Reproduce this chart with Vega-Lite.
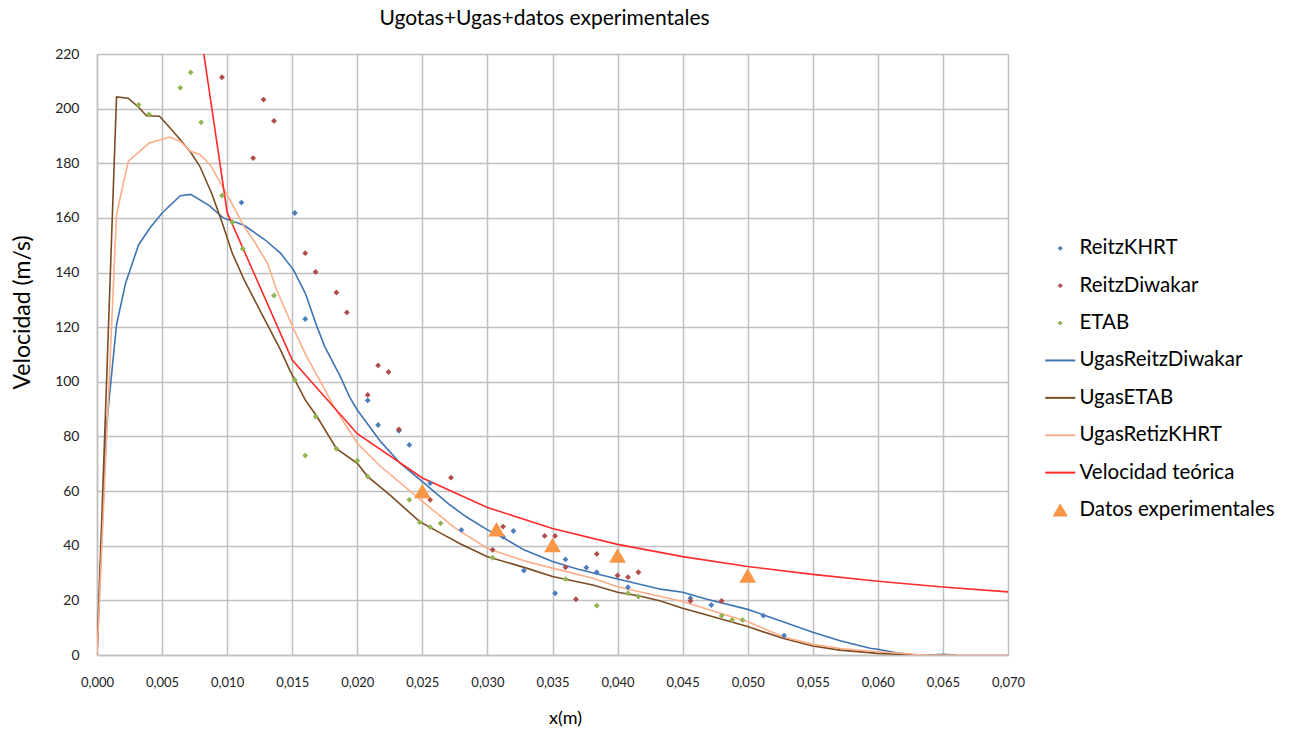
{
  "$schema": "https://vega.github.io/schema/vega-lite/v6.json",
  "width": 911,
  "height": 601,
  "autosize": {"type": "none"},
  "padding": {"left": 97, "top": 54, "right": 284, "bottom": 74},
  "background": "white",
  "title": {
    "text": "Ugotas+Ugas+datos experimentales",
    "font": "Lato",
    "fontSize": 21,
    "fontWeight": "normal",
    "color": "#000000",
    "anchor": "middle",
    "offset": 18,
    "dx": -8
  },
  "config": {
    "view": {"stroke": null},
    "axis": {
      "gridColor": "#c0c0c0",
      "gridWidth": 1.5,
      "domainColor": "#c0c0c0",
      "domainWidth": 1.5,
      "ticks": false,
      "labelFont": "Lato",
      "labelFontSize": 13,
      "labelColor": "#222222",
      "titleFont": "Lato",
      "titleColor": "#000000",
      "titleFontWeight": "normal"
    }
  },
  "data": {
    "values": [
      {"series": "ReitzKHRT", "x": 0.0111, "y": 165.6},
      {"series": "ReitzKHRT", "x": 0.0152, "y": 161.8},
      {"series": "ReitzKHRT", "x": 0.0160, "y": 123.0},
      {"series": "ReitzKHRT", "x": 0.0208, "y": 93.2},
      {"series": "ReitzKHRT", "x": 0.0216, "y": 84.2},
      {"series": "ReitzKHRT", "x": 0.0232, "y": 82.1},
      {"series": "ReitzKHRT", "x": 0.0240, "y": 76.9},
      {"series": "ReitzKHRT", "x": 0.0256, "y": 62.9},
      {"series": "ReitzKHRT", "x": 0.0280, "y": 45.8},
      {"series": "ReitzKHRT", "x": 0.0312, "y": 43.3},
      {"series": "ReitzKHRT", "x": 0.0320, "y": 45.4},
      {"series": "ReitzKHRT", "x": 0.0328, "y": 30.9},
      {"series": "ReitzKHRT", "x": 0.0352, "y": 22.6},
      {"series": "ReitzKHRT", "x": 0.0360, "y": 35.0},
      {"series": "ReitzKHRT", "x": 0.0376, "y": 32.0},
      {"series": "ReitzKHRT", "x": 0.0384, "y": 30.3},
      {"series": "ReitzKHRT", "x": 0.0408, "y": 24.8},
      {"series": "ReitzKHRT", "x": 0.0456, "y": 20.8},
      {"series": "ReitzKHRT", "x": 0.0472, "y": 18.3},
      {"series": "ReitzKHRT", "x": 0.0512, "y": 14.4},
      {"series": "ReitzKHRT", "x": 0.0528, "y": 7.1},

      {"series": "ReitzDiwakar", "x": 0.0096, "y": 211.5},
      {"series": "ReitzDiwakar", "x": 0.0120, "y": 181.9},
      {"series": "ReitzDiwakar", "x": 0.0128, "y": 203.3},
      {"series": "ReitzDiwakar", "x": 0.0136, "y": 195.5},
      {"series": "ReitzDiwakar", "x": 0.0160, "y": 147.1},
      {"series": "ReitzDiwakar", "x": 0.0168, "y": 140.2},
      {"series": "ReitzDiwakar", "x": 0.0184, "y": 132.7},
      {"series": "ReitzDiwakar", "x": 0.0192, "y": 125.4},
      {"series": "ReitzDiwakar", "x": 0.0208, "y": 95.2},
      {"series": "ReitzDiwakar", "x": 0.0216, "y": 106.0},
      {"series": "ReitzDiwakar", "x": 0.0224, "y": 103.6},
      {"series": "ReitzDiwakar", "x": 0.0232, "y": 82.6},
      {"series": "ReitzDiwakar", "x": 0.0256, "y": 56.8},
      {"series": "ReitzDiwakar", "x": 0.0272, "y": 64.9},
      {"series": "ReitzDiwakar", "x": 0.0304, "y": 38.5},
      {"series": "ReitzDiwakar", "x": 0.0312, "y": 47.0},
      {"series": "ReitzDiwakar", "x": 0.0344, "y": 43.6},
      {"series": "ReitzDiwakar", "x": 0.0352, "y": 43.6},
      {"series": "ReitzDiwakar", "x": 0.0360, "y": 32.1},
      {"series": "ReitzDiwakar", "x": 0.0368, "y": 20.4},
      {"series": "ReitzDiwakar", "x": 0.0384, "y": 37.0},
      {"series": "ReitzDiwakar", "x": 0.0400, "y": 29.1},
      {"series": "ReitzDiwakar", "x": 0.0408, "y": 28.5},
      {"series": "ReitzDiwakar", "x": 0.0416, "y": 30.3},
      {"series": "ReitzDiwakar", "x": 0.0456, "y": 19.8},
      {"series": "ReitzDiwakar", "x": 0.0480, "y": 19.8},

      {"series": "ETAB", "x": 0.0032, "y": 201.4},
      {"series": "ETAB", "x": 0.0040, "y": 197.9},
      {"series": "ETAB", "x": 0.0064, "y": 207.6},
      {"series": "ETAB", "x": 0.0072, "y": 213.3},
      {"series": "ETAB", "x": 0.0080, "y": 195.0},
      {"series": "ETAB", "x": 0.0096, "y": 168.2},
      {"series": "ETAB", "x": 0.0104, "y": 158.4},
      {"series": "ETAB", "x": 0.0112, "y": 148.7},
      {"series": "ETAB", "x": 0.0136, "y": 131.6},
      {"series": "ETAB", "x": 0.0152, "y": 100.7},
      {"series": "ETAB", "x": 0.0160, "y": 73.0},
      {"series": "ETAB", "x": 0.0168, "y": 87.3},
      {"series": "ETAB", "x": 0.0184, "y": 75.5},
      {"series": "ETAB", "x": 0.0200, "y": 71.1},
      {"series": "ETAB", "x": 0.0208, "y": 65.3},
      {"series": "ETAB", "x": 0.0240, "y": 56.8},
      {"series": "ETAB", "x": 0.0248, "y": 48.6},
      {"series": "ETAB", "x": 0.0256, "y": 46.8},
      {"series": "ETAB", "x": 0.0264, "y": 48.2},
      {"series": "ETAB", "x": 0.0304, "y": 35.6},
      {"series": "ETAB", "x": 0.0360, "y": 27.8},
      {"series": "ETAB", "x": 0.0384, "y": 18.1},
      {"series": "ETAB", "x": 0.0408, "y": 22.6},
      {"series": "ETAB", "x": 0.0416, "y": 21.4},
      {"series": "ETAB", "x": 0.0480, "y": 14.4},
      {"series": "ETAB", "x": 0.0488, "y": 12.8},
      {"series": "ETAB", "x": 0.0496, "y": 12.8},

      {"series": "UgasReitzDiwakar", "x": 0.0, "y": 0.0},
      {"series": "UgasReitzDiwakar", "x": 0.0007, "y": 82.4},
      {"series": "UgasReitzDiwakar", "x": 0.0015, "y": 120.9},
      {"series": "UgasReitzDiwakar", "x": 0.0022, "y": 136.2},
      {"series": "UgasReitzDiwakar", "x": 0.0032, "y": 150.2},
      {"series": "UgasReitzDiwakar", "x": 0.0041, "y": 156.5},
      {"series": "UgasReitzDiwakar", "x": 0.0050, "y": 161.8},
      {"series": "UgasReitzDiwakar", "x": 0.0064, "y": 168.1},
      {"series": "UgasReitzDiwakar", "x": 0.0072, "y": 168.6},
      {"series": "UgasReitzDiwakar", "x": 0.0086, "y": 164.6},
      {"series": "UgasReitzDiwakar", "x": 0.0097, "y": 160.0},
      {"series": "UgasReitzDiwakar", "x": 0.0113, "y": 157.3},
      {"series": "UgasReitzDiwakar", "x": 0.0129, "y": 152.0},
      {"series": "UgasReitzDiwakar", "x": 0.0141, "y": 147.1},
      {"series": "UgasReitzDiwakar", "x": 0.0151, "y": 141.0},
      {"series": "UgasReitzDiwakar", "x": 0.0160, "y": 132.5},
      {"series": "UgasReitzDiwakar", "x": 0.0169, "y": 120.2},
      {"series": "UgasReitzDiwakar", "x": 0.0175, "y": 112.9},
      {"series": "UgasReitzDiwakar", "x": 0.0187, "y": 101.9},
      {"series": "UgasReitzDiwakar", "x": 0.0194, "y": 94.5},
      {"series": "UgasReitzDiwakar", "x": 0.0200, "y": 89.7},
      {"series": "UgasReitzDiwakar", "x": 0.0218, "y": 78.1},
      {"series": "UgasReitzDiwakar", "x": 0.0233, "y": 70.2},
      {"series": "UgasReitzDiwakar", "x": 0.0250, "y": 63.5},
      {"series": "UgasReitzDiwakar", "x": 0.0271, "y": 55.0},
      {"series": "UgasReitzDiwakar", "x": 0.0284, "y": 50.5},
      {"series": "UgasReitzDiwakar", "x": 0.0300, "y": 45.8},
      {"series": "UgasReitzDiwakar", "x": 0.0312, "y": 43.0},
      {"series": "UgasReitzDiwakar", "x": 0.0328, "y": 38.5},
      {"series": "UgasReitzDiwakar", "x": 0.0350, "y": 34.2},
      {"series": "UgasReitzDiwakar", "x": 0.0369, "y": 31.5},
      {"series": "UgasReitzDiwakar", "x": 0.0400, "y": 27.8},
      {"series": "UgasReitzDiwakar", "x": 0.0417, "y": 25.9},
      {"series": "UgasReitzDiwakar", "x": 0.0433, "y": 24.1},
      {"series": "UgasReitzDiwakar", "x": 0.0450, "y": 23.0},
      {"series": "UgasReitzDiwakar", "x": 0.0468, "y": 20.5},
      {"series": "UgasReitzDiwakar", "x": 0.0500, "y": 16.7},
      {"series": "UgasReitzDiwakar", "x": 0.0520, "y": 13.4},
      {"series": "UgasReitzDiwakar", "x": 0.0550, "y": 8.3},
      {"series": "UgasReitzDiwakar", "x": 0.0571, "y": 5.2},
      {"series": "UgasReitzDiwakar", "x": 0.0594, "y": 2.5},
      {"series": "UgasReitzDiwakar", "x": 0.0600, "y": 2.1},
      {"series": "UgasReitzDiwakar", "x": 0.0614, "y": 0.8},
      {"series": "UgasReitzDiwakar", "x": 0.0627, "y": 0.2},
      {"series": "UgasReitzDiwakar", "x": 0.0640, "y": 0.0},
      {"series": "UgasReitzDiwakar", "x": 0.0650, "y": 0.3},
      {"series": "UgasReitzDiwakar", "x": 0.0660, "y": 0.0},

      {"series": "UgasETAB", "x": 0.0, "y": 0.0},
      {"series": "UgasETAB", "x": 0.0015, "y": 204.3},
      {"series": "UgasETAB", "x": 0.0024, "y": 203.8},
      {"series": "UgasETAB", "x": 0.0032, "y": 200.5},
      {"series": "UgasETAB", "x": 0.0038, "y": 197.4},
      {"series": "UgasETAB", "x": 0.0048, "y": 197.2},
      {"series": "UgasETAB", "x": 0.0056, "y": 193.0},
      {"series": "UgasETAB", "x": 0.0064, "y": 188.6},
      {"series": "UgasETAB", "x": 0.0072, "y": 184.0},
      {"series": "UgasETAB", "x": 0.0079, "y": 178.9},
      {"series": "UgasETAB", "x": 0.0088, "y": 169.1},
      {"series": "UgasETAB", "x": 0.0096, "y": 158.5},
      {"series": "UgasETAB", "x": 0.0104, "y": 147.0},
      {"series": "UgasETAB", "x": 0.0113, "y": 137.4},
      {"series": "UgasETAB", "x": 0.0127, "y": 124.5},
      {"series": "UgasETAB", "x": 0.0141, "y": 111.7},
      {"series": "UgasETAB", "x": 0.0148, "y": 104.4},
      {"series": "UgasETAB", "x": 0.0152, "y": 100.7},
      {"series": "UgasETAB", "x": 0.0160, "y": 93.4},
      {"series": "UgasETAB", "x": 0.0169, "y": 87.3},
      {"series": "UgasETAB", "x": 0.0184, "y": 75.5},
      {"series": "UgasETAB", "x": 0.0200, "y": 70.2},
      {"series": "UgasETAB", "x": 0.0208, "y": 65.3},
      {"series": "UgasETAB", "x": 0.0225, "y": 58.6},
      {"series": "UgasETAB", "x": 0.0248, "y": 48.8},
      {"series": "UgasETAB", "x": 0.0264, "y": 44.6},
      {"series": "UgasETAB", "x": 0.0279, "y": 40.7},
      {"series": "UgasETAB", "x": 0.0300, "y": 36.0},
      {"series": "UgasETAB", "x": 0.0330, "y": 31.8},
      {"series": "UgasETAB", "x": 0.0350, "y": 28.7},
      {"series": "UgasETAB", "x": 0.0381, "y": 25.6},
      {"series": "UgasETAB", "x": 0.0400, "y": 23.0},
      {"series": "UgasETAB", "x": 0.0417, "y": 21.6},
      {"series": "UgasETAB", "x": 0.0433, "y": 19.8},
      {"series": "UgasETAB", "x": 0.0450, "y": 17.1},
      {"series": "UgasETAB", "x": 0.0468, "y": 14.7},
      {"series": "UgasETAB", "x": 0.0500, "y": 10.4},
      {"series": "UgasETAB", "x": 0.0527, "y": 6.1},
      {"series": "UgasETAB", "x": 0.0550, "y": 3.3},
      {"series": "UgasETAB", "x": 0.0571, "y": 1.8},
      {"series": "UgasETAB", "x": 0.0600, "y": 0.6},
      {"series": "UgasETAB", "x": 0.0630, "y": 0.0},
      {"series": "UgasETAB", "x": 0.0660, "y": 0.0},

      {"series": "UgasRetizKHRT", "x": 0.0, "y": 0.0},
      {"series": "UgasRetizKHRT", "x": 0.0015, "y": 161.2},
      {"series": "UgasRetizKHRT", "x": 0.0024, "y": 180.7},
      {"series": "UgasRetizKHRT", "x": 0.0040, "y": 187.4},
      {"series": "UgasRetizKHRT", "x": 0.0056, "y": 189.6},
      {"series": "UgasRetizKHRT", "x": 0.0064, "y": 188.0},
      {"series": "UgasRetizKHRT", "x": 0.0072, "y": 184.4},
      {"series": "UgasRetizKHRT", "x": 0.0079, "y": 183.2},
      {"series": "UgasRetizKHRT", "x": 0.0087, "y": 179.5},
      {"series": "UgasRetizKHRT", "x": 0.0102, "y": 166.7},
      {"series": "UgasRetizKHRT", "x": 0.0113, "y": 156.9},
      {"series": "UgasRetizKHRT", "x": 0.0120, "y": 152.0},
      {"series": "UgasRetizKHRT", "x": 0.0131, "y": 143.5},
      {"series": "UgasRetizKHRT", "x": 0.0138, "y": 133.7},
      {"series": "UgasRetizKHRT", "x": 0.0145, "y": 126.0},
      {"series": "UgasRetizKHRT", "x": 0.0150, "y": 120.5},
      {"series": "UgasRetizKHRT", "x": 0.0161, "y": 109.3},
      {"series": "UgasRetizKHRT", "x": 0.0171, "y": 100.7},
      {"series": "UgasRetizKHRT", "x": 0.0182, "y": 90.9},
      {"series": "UgasRetizKHRT", "x": 0.0200, "y": 77.5},
      {"series": "UgasRetizKHRT", "x": 0.0218, "y": 69.0},
      {"series": "UgasRetizKHRT", "x": 0.0250, "y": 56.2},
      {"series": "UgasRetizKHRT", "x": 0.0275, "y": 46.5},
      {"series": "UgasRetizKHRT", "x": 0.0300, "y": 39.0},
      {"series": "UgasRetizKHRT", "x": 0.0330, "y": 34.2},
      {"series": "UgasRetizKHRT", "x": 0.0350, "y": 31.8},
      {"series": "UgasRetizKHRT", "x": 0.0381, "y": 28.1},
      {"series": "UgasRetizKHRT", "x": 0.0400, "y": 25.0},
      {"series": "UgasRetizKHRT", "x": 0.0433, "y": 21.4},
      {"series": "UgasRetizKHRT", "x": 0.0450, "y": 19.6},
      {"series": "UgasRetizKHRT", "x": 0.0500, "y": 12.2},
      {"series": "UgasRetizKHRT", "x": 0.0527, "y": 6.7},
      {"series": "UgasRetizKHRT", "x": 0.0550, "y": 3.9},
      {"series": "UgasRetizKHRT", "x": 0.0571, "y": 2.4},
      {"series": "UgasRetizKHRT", "x": 0.0600, "y": 1.2},
      {"series": "UgasRetizKHRT", "x": 0.0630, "y": 0.2},
      {"series": "UgasRetizKHRT", "x": 0.0640, "y": 0.0},
      {"series": "UgasRetizKHRT", "x": 0.0700, "y": 0.0},

      {"series": "Velocidad teórica", "x": 0.005, "y": 324.0},
      {"series": "Velocidad teórica", "x": 0.010, "y": 162.0},
      {"series": "Velocidad teórica", "x": 0.015, "y": 108.0},
      {"series": "Velocidad teórica", "x": 0.020, "y": 81.0},
      {"series": "Velocidad teórica", "x": 0.025, "y": 64.8},
      {"series": "Velocidad teórica", "x": 0.030, "y": 54.0},
      {"series": "Velocidad teórica", "x": 0.035, "y": 46.3},
      {"series": "Velocidad teórica", "x": 0.040, "y": 40.5},
      {"series": "Velocidad teórica", "x": 0.045, "y": 36.0},
      {"series": "Velocidad teórica", "x": 0.050, "y": 32.4},
      {"series": "Velocidad teórica", "x": 0.055, "y": 29.5},
      {"series": "Velocidad teórica", "x": 0.060, "y": 27.0},
      {"series": "Velocidad teórica", "x": 0.065, "y": 24.9},
      {"series": "Velocidad teórica", "x": 0.070, "y": 23.1},

      {"series": "Datos experimentales", "x": 0.0250, "y": 60.0},
      {"series": "Datos experimentales", "x": 0.0307, "y": 46.0},
      {"series": "Datos experimentales", "x": 0.0350, "y": 40.3},
      {"series": "Datos experimentales", "x": 0.0400, "y": 36.4},
      {"series": "Datos experimentales", "x": 0.0500, "y": 29.1}
    ]
  },
  "encoding": {
    "x": {
      "field": "x",
      "type": "quantitative",
      "scale": {"domain": [0, 0.07], "nice": false, "zero": false},
      "axis": {
        "values": [0, 0.005, 0.01, 0.015, 0.02, 0.025, 0.03, 0.035, 0.04, 0.045, 0.05, 0.055, 0.06, 0.065, 0.07],
        "labelExpr": "replace(format(datum.value, '.3f'), '.', ',')",
        "labelFlush": false,
        "labelOverlap": false,
        "labelPadding": 21,
        "title": "x(m)",
        "titleFontSize": 18,
        "titleX": 468,
        "titleY": 63,
        "titleBaseline": "middle",
        "titleAlign": "center"
      }
    },
    "y": {
      "field": "y",
      "type": "quantitative",
      "scale": {"domain": [0, 220], "nice": false},
      "axis": {
        "values": [0, 20, 40, 60, 80, 100, 120, 140, 160, 180, 200, 220],
        "labelPadding": 18,
        "labelFontSize": 14,
        "labelFlush": false,
        "labelOverlap": false,
        "title": "Velocidad (m/s)",
        "titleFontSize": 23,
        "titleX": -75,
        "titleY": 258,
        "titleAngle": 270,
        "titleBaseline": "middle",
        "titleAlign": "center"
      }
    },
    "color": {
      "field": "series",
      "type": "nominal",
      "scale": {
        "domain": ["ReitzKHRT", "ReitzDiwakar", "ETAB", "UgasReitzDiwakar", "UgasETAB", "UgasRetizKHRT", "Velocidad teórica", "Datos experimentales"],
        "range": ["#4a7ebb", "#b04c4a", "#92b552", "#3f74b3", "#7b4b22", "#fcae88", "#ff2a2a", "#f79646"]
      },
      "legend": {
        "orient": "none",
        "legendX": 953,
        "legendY": 184,
        "title": null,
        "padding": 0,
        "labelFont": "Lato",
        "labelFontSize": 20.5,
        "labelColor": "#000000",
        "labelOffset": 9,
        "labelLimit": 400,
        "symbolSize": 900,
        "rowPadding": 16.4,
        "symbolStrokeWidth": 2,
        "encode": {
          "symbols": {
            "update": {
              "stroke": {"scale": "color", "field": "value"},
              "size": {"signal": "indexof(['ReitzKHRT','ReitzDiwakar','ETAB'], datum.value) >= 0 ? 16 : (datum.value === 'Datos experimentales' ? 190 : 900)"},
              "strokeWidth": {"signal": "indexof(['ReitzKHRT','ReitzDiwakar','ETAB','Datos experimentales'], datum.value) >= 0 ? 1 : 2"}
            }
          }
        }
      }
    }
  },
  "layer": [
    {
      "transform": [{"filter": {"field": "series", "oneOf": ["UgasReitzDiwakar", "UgasETAB", "UgasRetizKHRT", "Velocidad teórica"]}}],
      "mark": {"type": "line", "strokeWidth": 1.6, "clip": true},
      "encoding": {"detail": {"field": "series"}}
    },
    {
      "transform": [{"filter": {"field": "series", "oneOf": ["ReitzKHRT", "ReitzDiwakar", "ETAB", "Datos experimentales"]}}],
      "mark": {"type": "point", "filled": true, "opacity": 1, "clip": true},
      "encoding": {
        "shape": {
          "field": "series",
          "type": "nominal",
          "scale": {
            "domain": ["ReitzKHRT", "ReitzDiwakar", "ETAB", "UgasReitzDiwakar", "UgasETAB", "UgasRetizKHRT", "Velocidad teórica", "Datos experimentales"],
            "range": ["diamond", "diamond", "diamond", "stroke", "stroke", "stroke", "stroke", "triangle-up"]
          }
        },
        "size": {
          "condition": {"test": "datum.series === 'Datos experimentales'", "value": 280},
          "value": 34
        }
      }
    }
  ]
}
